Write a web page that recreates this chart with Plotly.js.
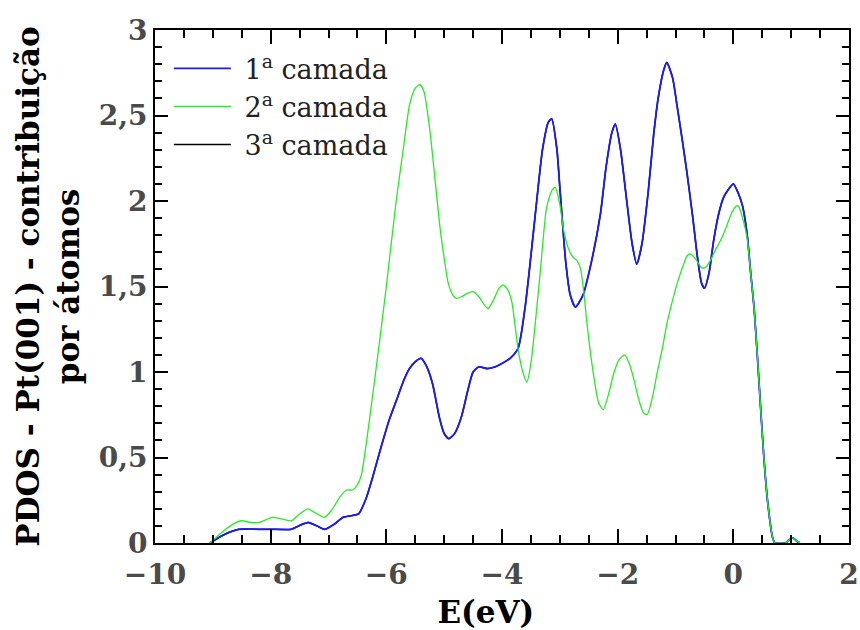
<!DOCTYPE html>
<html>
<head>
<meta charset="utf-8">
<script src="https://cdn.plot.ly/plotly-3.0.1.min.js"></script>
<style>html,body{margin:0;padding:0;background:#fff;}#chart{width:860px;height:630px;}</style>
</head>
<body>
<div id="chart"></div>
<script>
// Layer 1 (1ª camada)
const e1 = [-9.05,-8.8,-8.55,-8.2,-7.9,-7.65,-7.45,-7.35,-7.2,-7.07,-6.9,-6.75,-6.6,-6.48,-6.35,-6.24,-6.1,-5.95,-5.83,-5.7,-5.6,-5.5,-5.4,-5.3,-5.2,-5.08,-5.0,-4.92,-4.82,-4.7,-4.6,-4.5,-4.4,-4.25,-4.12,-4.0,-3.86,-3.72,-3.6,-3.5,-3.4,-3.3,-3.2,-3.14,-3.05,-3.0,-2.9,-2.82,-2.73,-2.6,-2.45,-2.3,-2.2,-2.1,-2.04,-1.95,-1.85,-1.75,-1.67,-1.58,-1.47,-1.38,-1.3,-1.2,-1.15,-1.05,-0.97,-0.88,-0.8,-0.7,-0.62,-0.55,-0.5,-0.42,-0.34,-0.25,-0.17,-0.08,0.0,0.08,0.16,0.24,0.3,0.36,0.42,0.47,0.53,0.6,0.68,0.72,0.9,0.97,1.03,1.1,1.15];
const v1 = [0,0.05,0.08,0.08,0.08,0.08,0.11,0.12,0.10,0.08,0.11,0.15,0.16,0.17,0.26,0.38,0.55,0.72,0.83,0.95,1.02,1.06,1.08,1.03,0.93,0.73,0.64,0.61,0.64,0.74,0.88,1.0,1.03,1.02,1.03,1.05,1.08,1.14,1.38,1.68,2.0,2.3,2.46,2.48,2.30,2.08,1.65,1.45,1.38,1.45,1.65,1.92,2.20,2.40,2.45,2.30,2.02,1.75,1.63,1.75,2.06,2.38,2.60,2.77,2.81,2.72,2.55,2.35,2.16,1.90,1.67,1.52,1.49,1.58,1.77,1.93,2.02,2.07,2.10,2.05,1.97,1.80,1.58,1.37,1.07,0.80,0.49,0.22,0.03,0,0,0.02,0.03,0.01,0];
// Layer 2 (2ª camada)
const e2 = [-9.05,-8.85,-8.65,-8.5,-8.35,-8.2,-7.97,-7.8,-7.64,-7.5,-7.36,-7.2,-7.07,-6.95,-6.8,-6.69,-6.58,-6.5,-6.43,-6.3,-6.12,-6.0,-5.83,-5.7,-5.6,-5.5,-5.42,-5.35,-5.25,-5.15,-5.07,-4.98,-4.93,-4.85,-4.79,-4.7,-4.6,-4.5,-4.4,-4.3,-4.24,-4.15,-4.05,-3.98,-3.9,-3.83,-3.77,-3.72,-3.64,-3.57,-3.5,-3.42,-3.34,-3.23,-3.14,-3.08,-3.0,-2.94,-2.85,-2.77,-2.7,-2.64,-2.58,-2.53,-2.42,-2.33,-2.25,-2.15,-2.07,-1.98,-1.88,-1.8,-1.73,-1.62,-1.55,-1.49,-1.4,-1.32,-1.22,-1.15,-1.05,-0.97,-0.87,-0.8,-0.74,-0.65,-0.55,-0.49,-0.4,-0.3,-0.22,-0.12,-0.03,0.05,0.09,0.16,0.24,0.3,0.36,0.42,0.47,0.53,0.6,0.68,0.72,0.9,0.97,1.03,1.1,1.15];
const v2 = [0,0.06,0.11,0.13,0.12,0.12,0.15,0.14,0.13,0.17,0.20,0.17,0.15,0.19,0.27,0.31,0.31,0.34,0.40,0.70,1.17,1.50,2.0,2.32,2.56,2.66,2.68,2.64,2.42,2.10,1.84,1.62,1.52,1.45,1.43,1.44,1.46,1.47,1.44,1.39,1.37,1.42,1.49,1.51,1.48,1.41,1.26,1.13,1.0,0.94,1.05,1.30,1.58,1.96,2.06,2.08,1.98,1.84,1.72,1.67,1.65,1.60,1.45,1.28,0.99,0.82,0.78,0.88,0.99,1.07,1.10,1.05,0.97,0.82,0.76,0.75,0.85,0.99,1.15,1.28,1.42,1.52,1.62,1.68,1.69,1.66,1.61,1.61,1.65,1.72,1.77,1.85,1.93,1.97,1.97,1.90,1.78,1.58,1.37,1.07,0.80,0.49,0.22,0.03,0,0,0.02,0.03,0.01,0];
// Layer 3 (3ª camada) - hidden beneath layer 1 in the reference
const e3 = e1.slice();
const v3 = v1.slice();

const names = ['\u00a01<sup>a</sup> camada','\u00a02<sup>a</sup> camada','\u00a03<sup>a</sup> camada'];
const xTicks = [-10,-8,-6,-4,-2,0,2];

const traces = [
  {x:e3, y:v3, name:names[2], mode:'lines', line:{color:'#000000', width:1.5, shape:'spline', smoothing:0.6}, legendrank:3},
  {x:e1, y:v1, name:names[0], mode:'lines', line:{color:'#1a1aff', width:1.8, shape:'spline', smoothing:0.6}, legendrank:1},
  {x:e2, y:v2, name:names[1], mode:'lines', line:{color:'#22ee22', width:1.3, shape:'spline', smoothing:0.6}, legendrank:2}
];

const tickFont = {family:'DejaVu Serif', size:28, color:'#4a4a4a', weight:'bold'};
const layout = {
  width:860, height:630,
  margin:{l:155, r:11, t:30, b:87},
  paper_bgcolor:'#fff', plot_bgcolor:'#fff',
  separators:', ',
  showlegend:true,
  legend:{x:0.02, y:0.972, xanchor:'left', yanchor:'top', bgcolor:'rgba(0,0,0,0)', font:{family:'DejaVu Serif', size:27, color:'#222'}, itemwidth:57, tracegroupgap:0},
  xaxis:{range:[-10,2], tickmode:'array', tickvals:xTicks, ticks:'inside', ticklen:14, tickwidth:2, tickcolor:'#000', showline:true, linecolor:'#000', linewidth:2, mirror:'ticks', showgrid:false, zeroline:false,
    minor:{dtick:0.5, ticks:'inside', ticklen:8, tickwidth:2, tickcolor:'#000'},
    ticklabelstandoff:5,
    tickfont:tickFont, title:{text:'<b>E(eV)\u00a0\u00a0\u00a0</b>', font:{family:'DejaVu Serif', size:31, color:'#000'}, standoff:17}},
  yaxis:{range:[0,3], dtick:0.5, ticks:'inside', ticklen:13, tickwidth:2, tickcolor:'#000', showline:true, linecolor:'#000', linewidth:2, mirror:'ticks', showgrid:false, zeroline:false,
    minor:{dtick:0.1, ticks:'inside', ticklen:7, tickwidth:2, tickcolor:'#000'},
    tickfont:tickFont, title:{text:'<b>PDOS - Pt(001) - contribuição<br>por átomos</b>', font:{family:'DejaVu Serif', size:31, color:'#000'}, standoff:10}}
};
Plotly.newPlot('chart', traces, layout, {displayModeBar:false, staticPlot:true});
</script>
</body>
</html>
